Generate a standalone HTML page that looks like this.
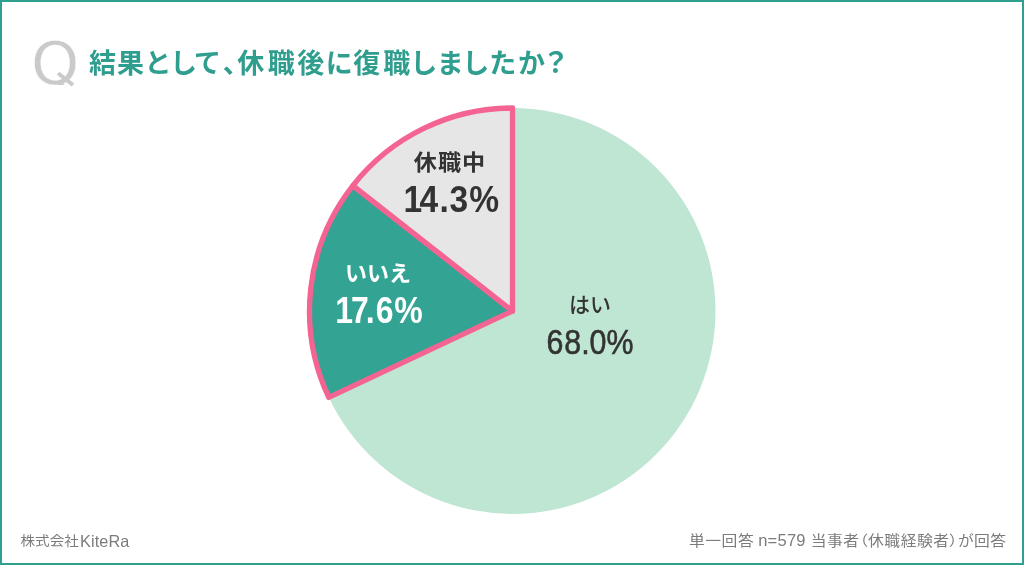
<!DOCTYPE html>
<html lang="ja">
<head>
<meta charset="utf-8">
<title>結果として、休職後に復職しましたか?</title>
<style>
html,body{margin:0;padding:0;background:#fff;}
body{width:1024px;height:565px;position:relative;overflow:hidden;font-family:"Liberation Sans","Noto Sans CJK JP",sans-serif;}
.frame{position:absolute;left:0;top:0;width:1024px;height:565px;box-sizing:border-box;border:2px solid #2fa08f;}
.q{position:absolute;left:31px;top:33.5px;font-family:"DejaVu Sans","Liberation Sans",sans-serif;font-size:58px;line-height:60px;color:#cacaca;font-weight:400;-webkit-text-stroke:0.45px #fff;transform:scaleX(1.06);transform-origin:0 50%;height:51.3px;overflow:hidden;}
.qt{position:absolute;left:56.3px;top:76.9px;width:18.6px;height:4.3px;background:#cacaca;transform:rotate(38.2deg);}
.lbl{position:absolute;white-space:nowrap;text-align:center;transform-origin:50% 50%;}
.foot{position:absolute;font-size:15px;line-height:20px;color:#7c7c7c;white-space:nowrap;}
.foot .kj{display:inline-block;transform:scaleY(.9);transform-origin:50% 50%;}
.foot .la{display:inline-block;position:relative;font-size:16.5px;letter-spacing:0;}
svg{position:absolute;left:0;top:0;}
svg text{font-family:"Liberation Sans","Noto Sans CJK JP",sans-serif;white-space:pre;}
.ttl{font-size:27px;font-weight:700;fill:#2f9e8e;font-feature-settings:"palt";}
.ttl .qm{font-size:28px;}
.n1{font-size:36.5px;font-weight:700;fill:#333;}
.n2{font-size:37px;font-weight:700;fill:#fff;}
.n3{font-size:35.5px;font-weight:400;fill:#333;stroke:#333;stroke-width:.6px;}

</style>
</head>
<body>
<div class="frame"></div>
<svg width="1024" height="565" viewBox="0 0 1024 565">
  <circle cx="512.5" cy="311" r="203" fill="#bee6d3"/>
  <path id="teal" d="M512.5 311 L328.8 397.4 A203 203 0 0 1 352.9 185.6 Z" fill="#33a394" stroke="#f46492" stroke-width="5.3" stroke-linejoin="round"/>
  <path id="gray" d="M512.5 311 L352.9 185.6 A203 203 0 0 1 512.5 108 Z" fill="#e6e6e6" stroke="#f46492" stroke-width="5.3" stroke-linejoin="round"/>
</svg>
<svg class="txt" width="1024" height="565" viewBox="0 0 1024 565">
  <text class="ttl" y="73.00" x="89.00 117.00 146.00 171.62 195.34 222.83 237.33 267.83 297.14 325.84 353.36 383.17 411.98 438.20 463.81 489.92 517.88">結果として、休職後に復職しましたか<tspan class="qm" x="546.18">？</tspan></text>
  <text class="n1" transform="scale(0.92 1)" y="211.80" x="438.62 455.93 477.84 488.49 509.99">14.3%</text>
  <text class="n2" transform="scale(0.865 1)" y="323.09" x="387.51 405.74 422.87 434.34 455.76">17.6%</text>
  <text class="n3" transform="scale(0.855 1)" y="354.00" x="639.21 659.96 679.70 689.56 709.31">68.0%</text>
</svg>
<div class="q">Q</div><div class="qt"></div>
<div class="lbl" id="l1a" style="left:400.2px;top:147.1px;width:100px;font-size:22px;line-height:32px;font-weight:700;color:#333;letter-spacing:1px;transform:scaleX(1.05);">休職中</div>
<div class="lbl" id="l2a" style="left:328px;top:257.5px;width:100px;font-size:22px;line-height:32px;font-weight:700;color:#fff;">いいえ</div>
<div class="lbl" id="l3a" style="left:540px;top:289px;width:100px;font-size:21px;line-height:32px;font-weight:500;color:#333;">はい</div>
<div class="foot" id="f1" style="left:20.5px;top:530.4px;font-size:14.6px;"><span class="kj" style="transform:scaleY(.885)">株式会社</span><span class="la" style="letter-spacing:0.1px;margin-left:1.3px;transform:scaleX(.985);transform-origin:0 50%;top:0.6px">KiteRa</span></div>
<div class="foot" id="f2" style="right:17.5px;top:530.3px;font-size:15.8px;letter-spacing:0.5px;font-feature-settings:'palt';"><span class="kj">単一回答</span> <span class="la" style="margin:0 0.1px 0 -0.9px;top:-0.4px;letter-spacing:0.25px">n=579</span> <span class="kj">当事者（休職経験者）が回答</span></div>
</body>
</html>
